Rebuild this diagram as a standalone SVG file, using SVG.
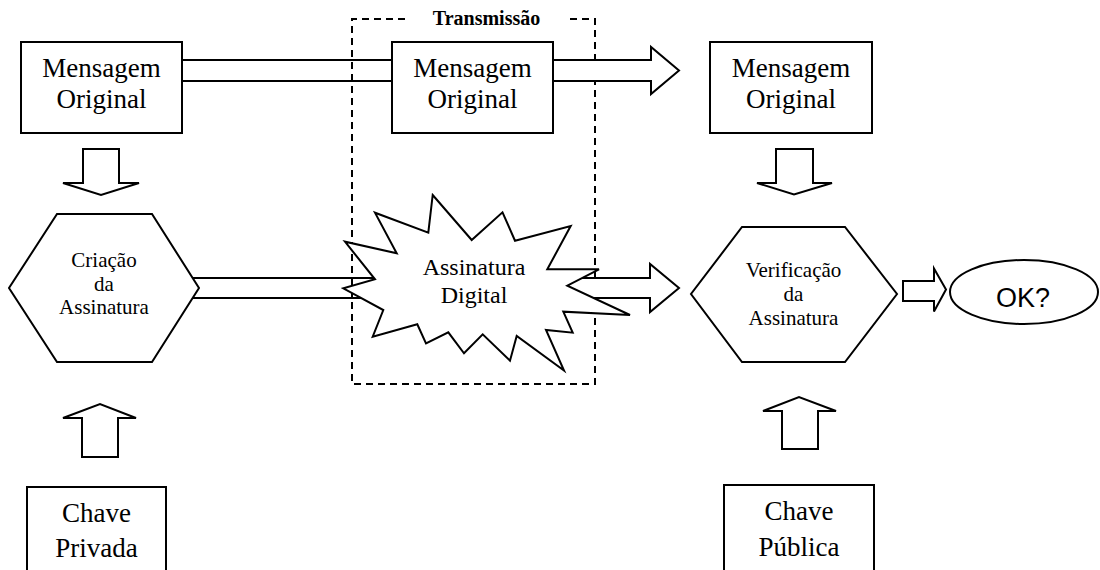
<svg xmlns="http://www.w3.org/2000/svg" width="1100" height="570" viewBox="0 0 1100 570">
  <style>
    .shape { fill: #ffffff; stroke: #000000; stroke-width: 2; stroke-linejoin: miter; }
    .bar { fill: none; stroke: #000000; stroke-width: 2; }
    .frame { fill: none; stroke: #000000; stroke-width: 2; stroke-dasharray: 7 5; }
  </style>

  <rect width="1100" height="570" fill="#ffffff"/>

  <!-- transmission frame -->
  <g id="transmissao">
    <path class="frame" d="M405,19 H352 V384 H595 V19 H566"/>
    <text x="486.5" y="25" font-family="Liberation Serif, Times New Roman, serif" font-size="20" font-weight="bold" text-anchor="middle">Transmissão</text>
  </g>

  <!-- connectors: block arrows and double-line links -->
  <g id="connectors">
    <!-- original message travels across the top -->
    <line class="bar" x1="182" y1="60" x2="392" y2="60"/>
    <line class="bar" x1="182" y1="81" x2="392" y2="81"/>
    <path class="shape" d="M553,60 H651 V47 L679,70.5 L651,94 V81 H553"/>
    <!-- signature creation to signature -->
    <line class="bar" x1="193" y1="278" x2="390" y2="278"/>
    <line class="bar" x1="193" y1="298" x2="390" y2="298"/>
    <!-- signature to verification -->
    <path class="shape" d="M560,278 H650 V264 L679,288 L650,312 V298 H560"/>
    <!-- message down into creation -->
    <path class="shape" d="M83,149 H119 V183 H139 L101,195 L63,183 H83 Z"/>
    <!-- message down into verification -->
    <path class="shape" d="M776,149 H813 V183 H832 L794,194.5 L757,183 H776 Z"/>
    <!-- private key up into creation -->
    <path class="shape" d="M82,457 H118 V418 H136 L100,404 L63,418 H82 Z"/>
    <!-- public key up into verification -->
    <path class="shape" d="M782,449 H818 V411 H836 L799,397 L763,411 H782 Z"/>
    <!-- verification result -->
    <path class="shape" d="M903,281 H934 V268.5 L946,289.5 L934,311.5 V301 H903 Z"/>
  </g>

  <g id="mensagem-origem" font-family="Liberation Serif, Times New Roman, serif" font-size="27" text-anchor="middle">
    <rect class="shape" x="21" y="42" width="161" height="91"/>
    <text x="101.5" y="77">Mensagem</text>
    <text x="101.5" y="108">Original</text>
  </g>

  <g id="mensagem-transito" font-family="Liberation Serif, Times New Roman, serif" font-size="27" text-anchor="middle">
    <rect class="shape" x="392" y="42" width="161" height="91"/>
    <text x="472.5" y="77">Mensagem</text>
    <text x="472.5" y="108">Original</text>
  </g>

  <g id="mensagem-destino" font-family="Liberation Serif, Times New Roman, serif" font-size="27" text-anchor="middle">
    <rect class="shape" x="710" y="42" width="162" height="91"/>
    <text x="791" y="77">Mensagem</text>
    <text x="791" y="108">Original</text>
  </g>

  <g id="criacao" font-family="Liberation Serif, Times New Roman, serif" font-size="21" text-anchor="middle">
    <polygon class="shape" points="57,214 152,214 199,288 152,362 57,362 9,288"/>
    <text x="104" y="267">Criação</text>
    <text x="104" y="290.5">da</text>
    <text x="104" y="314">Assinatura</text>
  </g>

  <g id="assinatura" font-family="Liberation Serif, Times New Roman, serif" font-size="24" text-anchor="middle">
    <polygon class="shape" points="432.7,195 471.7,240 502.5,212.3 515,240.7 570.7,226 547.3,269.3 599,269.3 567.3,285.7 630,315 563.3,311.7 572.7,332.7 546,330 564,370.5 516.7,336 510,360.7 482.7,334.3 464,353.3 448.3,332.3 426,343.3 417.3,324.3 372.7,336.7 383.3,310 343.3,288.3 375,279.3 345,241.7 396.7,253.3 375,212.7 428.3,232.7"/>
    <text x="474" y="275">Assinatura</text>
    <text x="474" y="302.5">Digital</text>
  </g>

  <g id="verificacao" font-family="Liberation Serif, Times New Roman, serif" font-size="21" text-anchor="middle">
    <polygon class="shape" points="742,227 845,227 897,294 845,362 742,362 691,294"/>
    <text x="793.5" y="277">Verificação</text>
    <text x="793.5" y="301">da</text>
    <text x="793.5" y="325">Assinatura</text>
  </g>

  <g id="resultado" font-family="Liberation Sans, Arial, sans-serif" font-size="27" text-anchor="middle">
    <ellipse class="shape" cx="1024" cy="292" rx="74" ry="32"/>
    <text x="1023" y="306.5">OK?</text>
  </g>

  <g id="chave-privada" font-family="Liberation Serif, Times New Roman, serif" font-size="27" text-anchor="middle">
    <rect class="shape" x="27" y="487" width="139" height="120"/>
    <text x="96.5" y="522">Chave</text>
    <text x="96.5" y="556.5">Privada</text>
  </g>

  <g id="chave-publica" font-family="Liberation Serif, Times New Roman, serif" font-size="27" text-anchor="middle">
    <rect class="shape" x="724" y="485" width="150" height="120"/>
    <text x="799" y="520">Chave</text>
    <text x="799" y="555.5">Pública</text>
  </g>
</svg>
